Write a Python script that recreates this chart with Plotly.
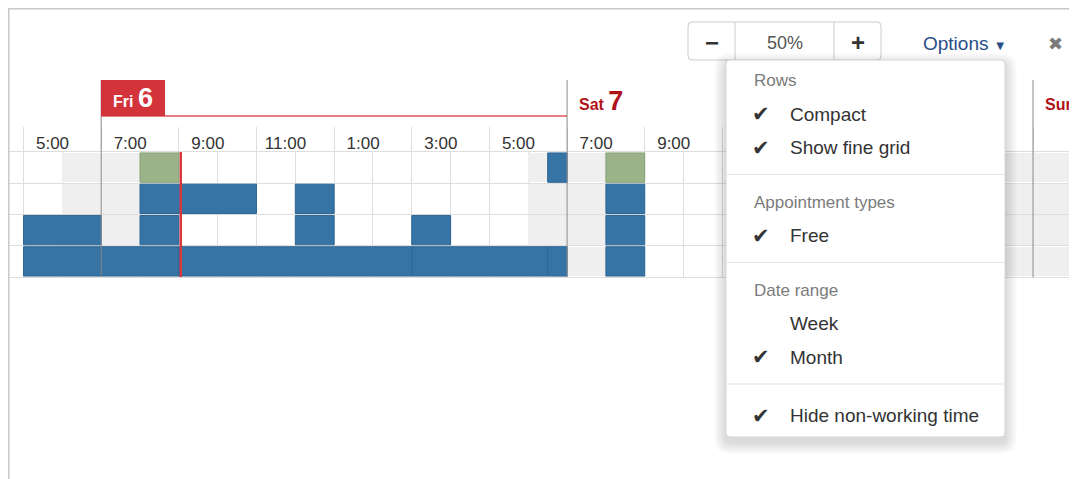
import plotly.graph_objects as go
import pandas as pd

# ---------------- data ----------------
rows = ["Room 1", "Room 2", "Room 3", "Room 4"]

booked_row = ["Room 1",
              "Room 2", "Room 2", "Room 2", "Room 2",
              "Room 3", "Room 3", "Room 3", "Room 3", "Room 3", "Room 3",
              "Room 4", "Room 4", "Room 4", "Room 4", "Room 4", "Room 4", "Room 4"]
booked_start = ["2018-04-06 18:30",
                "2018-04-06 08:00", "2018-04-06 12:00", "2018-04-07 08:00", "2018-04-08 08:00",
                "2018-04-05 17:00", "2018-04-06 08:00", "2018-04-06 12:00", "2018-04-06 15:00",
                "2018-04-07 08:00", "2018-04-08 08:00",
                "2018-04-05 17:00", "2018-04-06 07:00", "2018-04-06 09:00", "2018-04-06 15:00",
                "2018-04-06 18:30", "2018-04-07 08:00", "2018-04-08 08:00"]
booked_end = ["2018-04-06 19:00",
              "2018-04-06 11:00", "2018-04-06 13:00", "2018-04-07 09:00", "2018-04-08 09:00",
              "2018-04-05 19:00", "2018-04-06 09:00", "2018-04-06 13:00", "2018-04-06 16:00",
              "2018-04-07 09:00", "2018-04-08 09:00",
              "2018-04-05 19:00", "2018-04-06 09:00", "2018-04-06 15:00", "2018-04-06 18:30",
              "2018-04-06 19:00", "2018-04-07 09:00", "2018-04-08 09:00"]

free_row = ["Room 1", "Room 1", "Room 1"]
free_start = ["2018-04-06 08:00", "2018-04-07 08:00", "2018-04-08 08:00"]
free_end = ["2018-04-06 09:00", "2018-04-07 09:00", "2018-04-08 09:00"]

closed_start = ["2018-04-05 18:00", "2018-04-06 07:00", "2018-04-06 18:00",
                "2018-04-07 07:00", "2018-04-07 18:00", "2018-04-08 07:00"]
closed_end = ["2018-04-05 19:00", "2018-04-06 08:00", "2018-04-06 19:00",
              "2018-04-07 08:00", "2018-04-07 19:00", "2018-04-08 08:00"]

days = ["2018-04-05", "2018-04-06", "2018-04-07", "2018-04-08"]
day_name = ["Thu", "Fri", "Sat", "Sun"]
day_num = ["5", "6", "7", "8"]
current_day = 1
now_time = "2018-04-06 09:03"

view_start = "2018-04-05 16:36"
view_end = "2018-04-08 08:08"
work_hours = [7, 19]          # non-working time is hidden
tick_every_h = 2

zoom_label = "50%"
menu_sections = [
    ("Rows", [("Compact", True), ("Show fine grid", True)]),
    ("Appointment types", [("Free", True)]),
    ("Date range", [("Week", False), ("Month", True)]),
    (None, [("Hide non-working time", True)]),
]

# ---------------- time scale: hidden non-working time ----------------
ORIGIN = pd.Timestamp(view_start)
DAY_LEN = work_hours[1] - work_hours[0]


def wt(t):
    """working hours elapsed since the start of the visible range"""
    def raw(ts):
        ts = pd.Timestamp(ts)
        h = ts.hour + ts.minute / 60
        h = min(max(h, work_hours[0]), work_hours[1]) - work_hours[0]
        return (ts.normalize() - ORIGIN.normalize()).days * DAY_LEN + h
    return raw(t) - raw(ORIGIN)


# ---------------- page geometry helpers ----------------
OFF = 8                        # page body margin
W, H = 1077 - OFF, 479 - OFF
T_PAGE, B_PAGE = 152, 277      # grid rows (page px)
L = 0
T, B = T_PAGE - OFF, B_PAGE - OFF
PW, PH = W - L, B - T


def px(x):
    return (x - OFF - L) / PW


def py(y):
    return (B - (y - OFF)) / PH


BLUE = "#3774a6"
BLUE_LINE = "#2d6594"
GREEN = "#9cb38a"
GREEN_LINE = "#86a074"
GREY = "#efefef"
GRID = "#dedede"
FONT = "Liberation Sans, Arial, sans-serif"


def bar_trace(rws, starts, ends, color, line_color, line_w, width):
    b = [wt(s) for s in starts]
    d = [wt(e) - wt(s) for s, e in zip(starts, ends)]
    return go.Bar(orientation="h", base=b, x=d,
                  y=[rows.index(r) for r in rws], width=width,
                  marker=dict(color=color, line=dict(color=line_color, width=line_w)),
                  hoverinfo="skip", showlegend=False)


fig = go.Figure()

c_rows, c_s, c_e = [], [], []
for r in rows:
    for s, e in zip(closed_start, closed_end):
        c_rows.append(r); c_s.append(s); c_e.append(e)
fig.add_trace(bar_trace(c_rows, c_s, c_e, GREY, GREY, 0, 0.95))
fig.add_trace(bar_trace(free_row, free_start, free_end, GREEN, GREEN_LINE, 1, 0.94))
fig.add_trace(bar_trace(booked_row, booked_start, booked_end, BLUE, BLUE_LINE, 1, 0.94))

# tick labels every 2 working hours, fine grid every hour
x_lo, x_hi = wt(view_start), wt(view_end)
tick_vals, tick_text, hour_vals = [], [], []
for d in days:
    for h in range(work_hours[0], work_hours[1]):
        t = pd.Timestamp(d) + pd.Timedelta(hours=h)
        v = wt(t)
        if not (x_lo <= v <= x_hi):
            continue
        if v not in hour_vals:
            hour_vals.append(v)
        if (h - work_hours[0]) % tick_every_h == 0 and v not in tick_vals:
            tick_vals.append(v)
            tick_text.append(t.strftime("%I:%M").lstrip("0"))

shapes = []
annotations = []

# page frame
shapes.append(dict(type="line", xref="paper", yref="paper", x0=px(7), x1=px(1090),
                   y0=py(8.5), y1=py(8.5), line=dict(color="#c8c8c8", width=2)))
shapes.append(dict(type="line", xref="paper", yref="paper", x0=px(8.5), x1=px(8.5),
                   y0=py(8), y1=py(490), line=dict(color="#c8c8c8", width=2)))

# day dividers and day headers
for i, d in enumerate(days):
    ds = pd.Timestamp(d) + pd.Timedelta(hours=work_hours[0])
    de = pd.Timestamp(d) + pd.Timedelta(hours=work_hours[1])
    xs = wt(ds)
    if not (x_lo < xs < x_hi):
        continue
    shapes.append(dict(type="line", xref="x", yref="paper", x0=xs, x1=xs,
                       y0=0, y1=py(80), line=dict(color="#8a8a8a", width=1), layer="above"))
    label = "<b>%s </b><b><span style='font-size:27px'>%s</span></b>" % (day_name[i], day_num[i])
    if i == current_day:
        shapes.append(dict(type="line", xref="x", yref="paper", x0=xs, x1=wt(de),
                           y0=py(116), y1=py(116), line=dict(color="#dc5257", width=1.5),
                           layer="above"))
        annotations.append(dict(
            x=xs, xref="x", y=py(116), yref="paper", xanchor="left", yanchor="bottom",
            text=label, font=dict(size=16, color="white", family=FONT), bgcolor="#d3343c",
            bordercolor="#d3343c", borderwidth=1, borderpad=0, width=62, height=34,
            showarrow=False, align="center", valign="middle"))
    else:
        annotations.append(dict(
            x=xs, xref="x", xshift=10, y=py(101), yref="paper", xanchor="left",
            yanchor="middle", text=label,
            font=dict(size=16, color="#b0121a", family=FONT), showarrow=False))

# current time marker
nt = wt(now_time)
shapes.append(dict(type="line", xref="x", yref="paper", x0=nt, x1=nt,
                   y0=0, y1=1, line=dict(color="#d8373e", width=2.5), layer="above"))


# ---------------- toolbar ----------------
def rrect(x0, y0, x1, y1, r):
    return (f"M {px(x0 + r)} {py(y0)} L {px(x1 - r)} {py(y0)} Q {px(x1)} {py(y0)} {px(x1)} {py(y0 + r)} "
            f"L {px(x1)} {py(y1 - r)} Q {px(x1)} {py(y1)} {px(x1 - r)} {py(y1)} "
            f"L {px(x0 + r)} {py(y1)} Q {px(x0)} {py(y1)} {px(x0)} {py(y1 - r)} "
            f"L {px(x0)} {py(y0 + r)} Q {px(x0)} {py(y0)} {px(x0 + r)} {py(y0)} Z")


def text(x, y, s, size, color, xanchor="center", family=FONT):
    annotations.append(dict(x=px(x), y=py(y), xref="paper", yref="paper", text=s,
                            xanchor=xanchor, yanchor="middle", showarrow=False,
                            font=dict(size=size, color=color, family=family)))


shapes.append(dict(type="path", xref="paper", yref="paper", path=rrect(688, 22, 881, 60, 4),
                   fillcolor="white", line=dict(color="#cccccc", width=1), layer="above"))
for xd in (735, 834):
    shapes.append(dict(type="line", xref="paper", yref="paper", x0=px(xd), x1=px(xd),
                       y0=py(22), y1=py(60), line=dict(color="#cccccc", width=1), layer="above"))
text(712, 42, "<b>−</b>", 24, "#333")
text(785, 43, zoom_label, 18, "#555")
text(858, 42, "<b>+</b>", 24, "#333")
text(921, 44, "Options <span style='font-size:13px'>▼</span>", 19, "#2a4d86", xanchor="left")
text(1055, 44, "✖", 18, "#7a7a7a", family="DejaVu Sans")

# ---------------- dropdown menu ----------------
MX0, MY0, MX1, MY1 = 726, 60, 1005, 437
for k in range(1, 13):
    shapes.append(dict(type="path", xref="paper", yref="paper",
                       path=rrect(MX0 - k, MY0 - k + 5, MX1 + k, MY1 + k + 5, 4 + k),
                       fillcolor="rgba(0,0,0,0.011)", line=dict(width=0), layer="above"))
shapes.append(dict(type="path", xref="paper", yref="paper", path=rrect(MX0, MY0, MX1, MY1, 4),
                   fillcolor="white", line=dict(color="#d6d6d6", width=1), layer="above"))

yy = 81
first = True
for title, items in menu_sections:
    if not first:
        shapes.append(dict(type="line", xref="paper", yref="paper", x0=px(MX0 + 1), x1=px(MX1 - 1),
                           y0=py(yy - 28), y1=py(yy - 28), line=dict(color="#e3e3e3", width=1),
                           layer="above"))
    first = False
    if title:
        text(752, yy, title, 17, "#7b7b7b", xanchor="left")
        yy += 33
    else:
        yy += 3.5
    for label, checked in items:
        if checked:
            text(761, yy, "✔", 21, "#333", family="DejaVu Sans")
        text(788, yy, label, 19, "#333", xanchor="left")
        yy += 33.5
    yy += 21.5

fig.update_layout(
    width=W, height=H, autosize=False,
    margin=dict(l=L, r=0, t=T, b=H - B, pad=0),
    paper_bgcolor="white", plot_bgcolor="white",
    barmode="overlay", bargap=0, hovermode=False,
    font=dict(family=FONT, color="#333"),
    shapes=shapes, annotations=annotations,
    xaxis=dict(
        range=[x_lo, x_hi], side="top", showgrid=True, gridcolor=GRID, gridwidth=1,
        tickmode="array", tickvals=tick_vals, ticktext=tick_text,
        ticks="outside", ticklen=24, tickcolor=GRID, tickwidth=1,
        ticklabelshift=29, ticklabelstandoff=-29,
        tickfont=dict(size=17, color="#333", family=FONT),
        minor=dict(tickmode="array", tickvals=hour_vals, showgrid=True, gridcolor=GRID, ticks=""),
        showline=True, linecolor=GRID, mirror=True, zeroline=False, fixedrange=True,
    ),
    yaxis=dict(
        range=[3.5, -0.5], tickvals=[0.5, 1.5, 2.5], showgrid=True, gridcolor=GRID,
        showticklabels=False, ticks="", zeroline=False, showline=False, fixedrange=True,
    ),
)

fig.write_html("out.html", config={"displayModeBar": False, "staticPlot": True})
